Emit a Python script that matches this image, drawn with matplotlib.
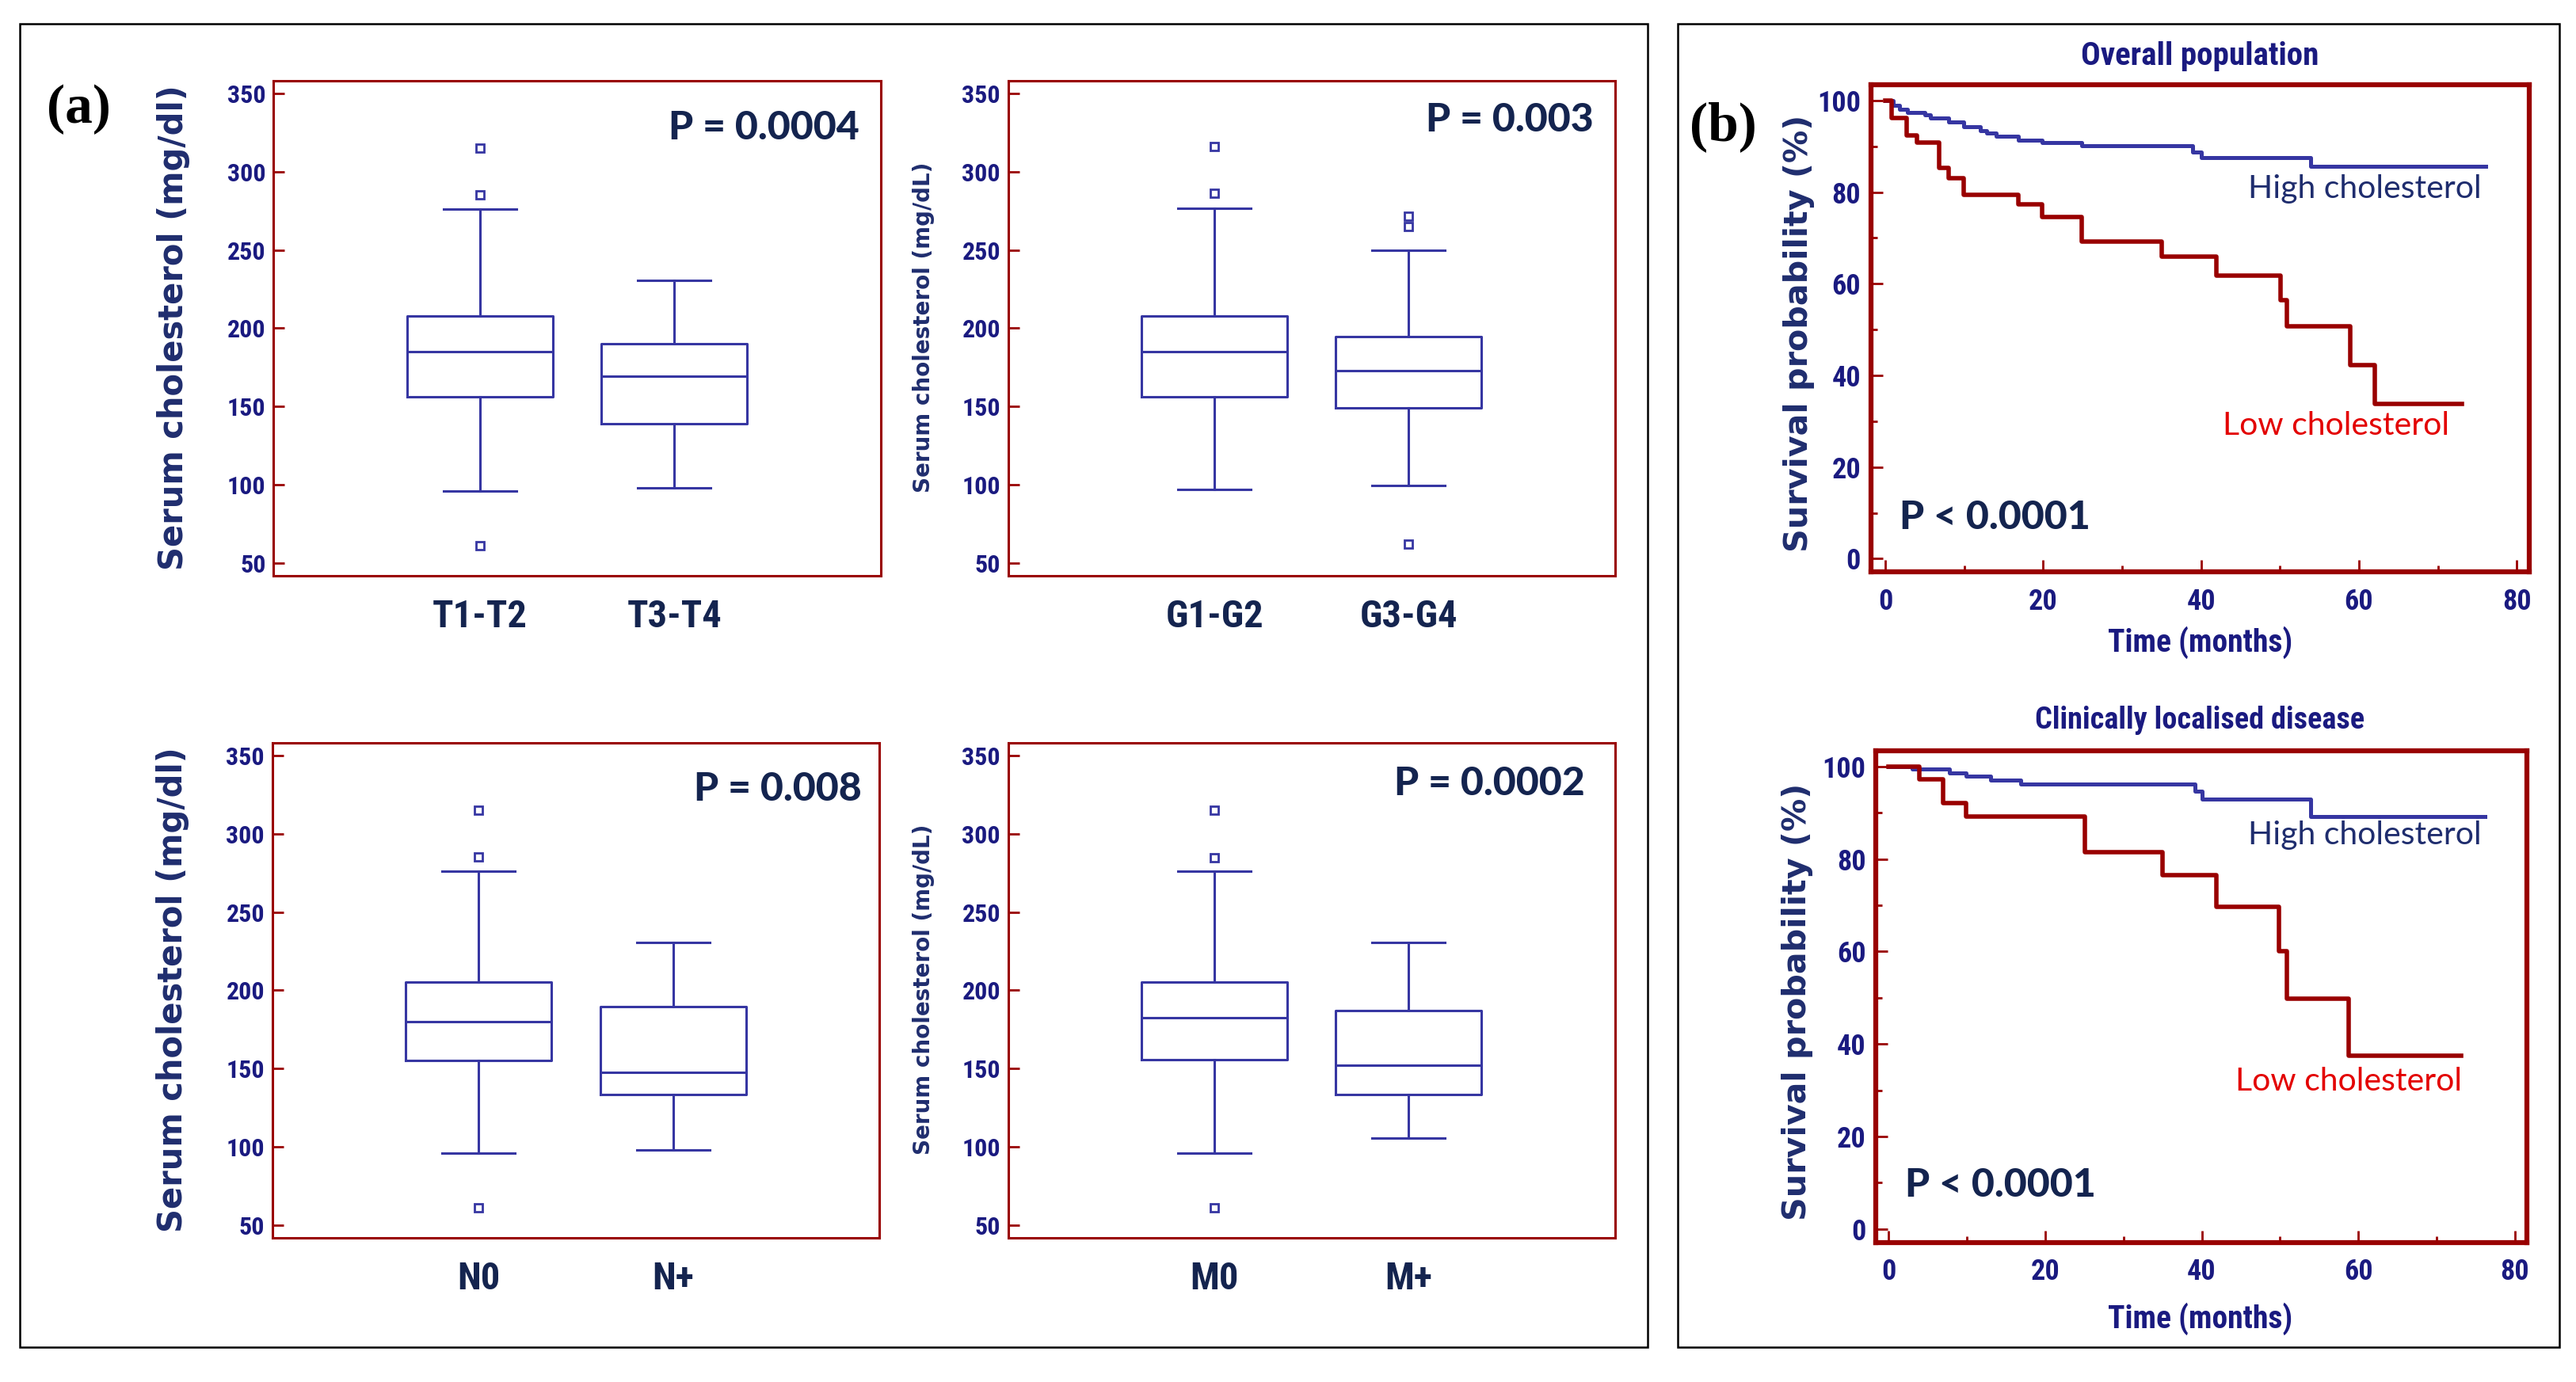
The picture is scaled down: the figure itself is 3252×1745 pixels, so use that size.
import matplotlib
matplotlib.use("Agg")
import matplotlib.pyplot as plt
from matplotlib.patches import Rectangle
from matplotlib.ticker import MultipleLocator
from matplotlib import font_manager
from matplotlib.font_manager import FontProperties

# ---------------- data ----------------
box_groups = [["T1-T2", "T3-T4"], ["G1-G2", "G3-G4"], ["N0", "N+"], ["M0", "M+"]]
box_pvalues = ["P = 0.0004", "P = 0.003", "P = 0.008", "P = 0.0002"]
box_ylabels = ["Serum cholesterol (mg/dl)", "Serum cholesterol (mg/dL)",
               "Serum cholesterol (mg/dl)", "Serum cholesterol (mg/dL)"]

# [whislo, q1, median, q3, whishi] for each group
t_stage_stats = [[96, 156, 185, 208, 276], [98, 139, 169.5, 190, 230.5]]
grade_stats = [[97, 156, 185, 208, 276.5], [99.5, 149, 173, 194.5, 250]]
n_stage_stats = [[96, 155, 180, 205.5, 276], [98.3, 133.5, 147.6, 189.6, 230.8]]
m_stage_stats = [[96, 155.6, 182.5, 205.2, 276], [105.6, 133.3, 152.4, 187.1, 230.6]]

t_stage_fliers = [[61, 285, 315], []]
grade_fliers = [[286, 316], [62, 265, 271.5]]
n_stage_fliers = [[61, 285, 315], []]
m_stage_fliers = [[61, 284.6, 314.8], []]

# Kaplan-Meier curves (time in months, survival in %)
overall_high_t = [0, 1.0, 1.8, 2.8, 5.0, 5.75, 8.0, 9.9, 12.0, 12.9, 14.1, 16.9, 19.9, 24.9, 38.9, 40.0, 53.9, 76.1]
overall_high_s = [100, 99.0, 98.1, 97.3, 96.9, 96.2, 95.3, 94.2, 93.4, 92.9, 92.2, 91.3, 90.8, 90.1, 88.8, 87.6, 85.6, 85.6]
overall_low_t = [0, 0.8, 2.7, 4.0, 6.8, 8.0, 9.9, 16.9, 19.9, 24.9, 35.0, 42.0, 50.1, 50.9, 58.9, 62.0, 73.1]
overall_low_s = [100, 96.1, 92.4, 90.8, 85.2, 83.1, 79.4, 77.4, 74.5, 69.2, 65.9, 61.8, 56.4, 50.7, 42.3, 33.8, 33.8]

local_high_t = [0, 3.0, 7.8, 9.9, 13.0, 16.9, 39.1, 40.0, 53.9, 76.2]
local_high_s = [100, 99.5, 98.6, 97.9, 97.0, 96.2, 94.6, 92.9, 89.2, 89.2]
local_low_t = [0, 3.9, 7.0, 9.9, 25.1, 35.0, 41.9, 49.9, 50.9, 58.8, 73.1]
local_low_s = [100, 97.3, 92.1, 89.2, 81.4, 76.5, 69.6, 60.0, 49.8, 37.4, 37.4]

km_titles = ["Overall population", "Clinically localised disease"]

# ---------------- style ----------------
TICK_NAVY = "#1a1a80"
LABEL_NAVY = "#1f2d6e"
TEXT_NAVY = "#14244f"
BOX_BLUE = "#3636a2"
DARK_RED = "#990000"
LOW_RED = "#e30000"


def _weight(f):
    w = f.weight
    if isinstance(w, str):
        w = font_manager.weight_dict.get(w, 400)
    return w


def _narrow(f):
    return "Narrow" in f.name or "Condensed" in f.name or "condensed" in str(f.stretch)


def find_font(prefer, bold=True, condensed=False):
    # return the file of the first installed face that fits
    entries = [f for f in font_manager.fontManager.ttflist if f.style == "normal"]
    for name in prefer:
        for f in entries:
            if not f.name.startswith(name):
                continue
            if bold and _weight(f) < 600:
                continue
            if not bold and not (350 <= _weight(f) <= 450):
                continue
            if condensed and not _narrow(f):
                continue
            if not condensed and _narrow(f):
                continue
            return f.fname
    return None


narrow_file = (find_font(["Liberation Sans Narrow", "Arial Narrow", "Roboto Condensed",
                          "Open Sans Condensed", "Noto Sans", "DejaVu Sans", "Open Sans",
                          "Roboto", "Liberation Sans"], condensed=True)
               or find_font(["Liberation Sans", "Roboto", "DejaVu Sans"]))
calibri_bold_file = find_font(["Lato", "Open Sans", "Noto Sans", "Liberation Sans", "DejaVu Sans"])
calibri_file = find_font(["Lato", "Open Sans", "Noto Sans", "Liberation Sans", "DejaVu Sans"], bold=False)


def fp(path, size, fallback_weight="bold"):
    if path:
        return FontProperties(fname=path, size=size)
    return FontProperties(family="DejaVu Sans", weight=fallback_weight, size=size)


def wide_bold(size):
    return FontProperties(family="DejaVu Sans", weight="bold", size=size)


serif_bold = FontProperties(family=["Liberation Serif", "DejaVu Serif"], weight="bold", size=50)

fig = plt.figure(figsize=(32.52, 17.45), dpi=100)
fig.patch.set_facecolor("white")

# outer frames of panel (a) and (b)
fig.add_artist(Rectangle((0.0077, 0.0252), 0.6319, 0.9576, transform=fig.transFigure,
                         fill=False, edgecolor="black", linewidth=1.8))
fig.add_artist(Rectangle((0.6513, 0.0252), 0.3422, 0.9576, transform=fig.transFigure,
                         fill=False, edgecolor="black", linewidth=1.8))
fig.text(0.0307, 0.921, "(a)", fontproperties=serif_bold, ha="center", va="center", color="black")
fig.text(0.669, 0.908, "(b)", fontproperties=serif_bold, ha="center", va="center", color="black")

# ---------------- boxplots ----------------
box_stats = [t_stage_stats, grade_stats, n_stage_stats, m_stage_stats]
box_fliers = [t_stage_fliers, grade_fliers, n_stage_fliers, m_stage_fliers]
box_rects = [[0.1062, 0.5834, 0.2357, 0.3582], [0.3914, 0.5834, 0.2355, 0.3582],
             [0.1057, 0.1043, 0.2357, 0.3582], [0.3914, 0.1043, 0.2355, 0.3582]]
p_pos = [(0.965, 0.905), (0.965, 0.92), (0.971, 0.907), (0.95, 0.918)]
label_x = [-0.165, -0.14, -0.164, -0.14]
label_size = [30, 20, 30, 20]

for i in range(4):
    ax = fig.add_axes(box_rects[i])
    stats = []
    for j in range(2):
        lo, q1, med, q3, hi = box_stats[i][j]
        stats.append({"whislo": lo, "q1": q1, "med": med, "q3": q3, "whishi": hi,
                      "fliers": box_fliers[i][j], "label": box_groups[i][j]})
    line = {"color": BOX_BLUE, "linewidth": 2.2}
    ax.bxp(stats, positions=[1, 2], widths=0.75, boxprops=line, whiskerprops=line,
           capprops=line, medianprops=line,
           flierprops={"marker": "s", "markersize": 7, "markerfacecolor": "white",
                       "markeredgecolor": BOX_BLUE, "markeredgewidth": 2})
    ax.set_xlim(-0.0625, 3.0625)
    ax.set_ylim(42, 358)
    ax.set_yticks(range(50, 351, 50))
    for s in ax.spines.values():
        s.set_color(DARK_RED)
        s.set_linewidth(2.2)
    ax.tick_params(axis="y", direction="in", length=10, width=2, color=DARK_RED,
                   labelcolor=TICK_NAVY, pad=7)
    ax.tick_params(axis="x", length=0, labelcolor=TEXT_NAVY, pad=21)
    for lab in ax.get_yticklabels():
        lab.set_fontproperties(fp(narrow_file, 23))
    for lab in ax.get_xticklabels():
        lab.set_fontproperties(fp(narrow_file, 35))
    ax.text(label_x[i], 0.502, box_ylabels[i], transform=ax.transAxes, rotation=90,
            ha="center", va="center", fontproperties=wide_bold(label_size[i]),
            color=LABEL_NAVY)
    ax.text(p_pos[i][0], p_pos[i][1], box_pvalues[i], transform=ax.transAxes,
            ha="right", va="center", fontproperties=fp(calibri_bold_file, 36),
            color=TEXT_NAVY)

# ---------------- Kaplan-Meier ----------------
km_rects = [[0.7262, 0.5861, 0.2557, 0.3525], [0.7282, 0.1011, 0.2526, 0.3556]]
km_curves = [(overall_high_t, overall_high_s, overall_low_t, overall_low_s),
             (local_high_t, local_high_s, local_low_t, local_low_s)]
km_title_y = [0.9593, 0.479]
km_title_size = [29.5, 27.5]
km_xlabel_y = [0.5352, 0.0458]
km_high_pos = [(75.5, 80.7), (75.7, 85.1)]
km_low_pos = [(71.5, 29.0), (73.2, 31.9)]
km_p_pos = [(1.8, 9.0), (2.1, 9.5)]
km_ylabel_x = [-0.109, -0.121]
km_xlims = [(-1.84, 81.6), (-1.64, 81.5)]

for i in range(2):
    ax = fig.add_axes(km_rects[i])
    ht, hs, lt, ls = km_curves[i]
    ax.step(ht, hs, where="post", color=BOX_BLUE, linewidth=3.6)
    ax.step(lt, ls, where="post", color=DARK_RED, linewidth=4.0)
    ax.set_xlim(*km_xlims[i])
    ax.set_ylim(-2.9, 103.4)
    ax.xaxis.set_major_locator(MultipleLocator(20))
    ax.xaxis.set_minor_locator(MultipleLocator(10))
    ax.yaxis.set_major_locator(MultipleLocator(20))
    ax.yaxis.set_minor_locator(MultipleLocator(10))
    for s in ax.spines.values():
        s.set_color(DARK_RED)
        s.set_linewidth(4.5)
    ax.tick_params(which="major", direction="in", length=11, width=2, color=DARK_RED,
                   labelcolor=TICK_NAVY)
    ax.tick_params(which="minor", direction="in", length=5.5, width=2, color=DARK_RED)
    ax.tick_params(axis="x", pad=14)
    ax.tick_params(axis="y", pad=9)
    for lab in ax.get_yticklabels() + ax.get_xticklabels():
        lab.set_fontproperties(fp(narrow_file, 26))
    ax.text(km_ylabel_x[i], 0.49, "Survival probability (%)", transform=ax.transAxes,
            rotation=90, ha="center", va="center", fontproperties=wide_bold(29.7),
            color=LABEL_NAVY)
    ax.text(km_high_pos[i][0], km_high_pos[i][1], "High cholesterol", ha="right",
            va="center", fontproperties=fp(calibri_file, 29.5, "normal"), color=LABEL_NAVY)
    ax.text(km_low_pos[i][0], km_low_pos[i][1], "Low cholesterol", ha="right",
            va="center", fontproperties=fp(calibri_file, 29.5, "normal"), color=LOW_RED)
    ax.text(km_p_pos[i][0], km_p_pos[i][1], "P < 0.0001", ha="left", va="center",
            fontproperties=fp(calibri_bold_file, 36), color=TEXT_NAVY)
    fig.text(0.854, km_title_y[i], km_titles[i], ha="center", va="center",
             fontproperties=fp(narrow_file, km_title_size[i]), color=TICK_NAVY)
    fig.text(0.854, km_xlabel_y[i], "Time (months)", ha="center", va="center",
             fontproperties=fp(narrow_file, 28.5), color=TICK_NAVY)

fig.savefig("out.png", dpi=100, facecolor="white")
